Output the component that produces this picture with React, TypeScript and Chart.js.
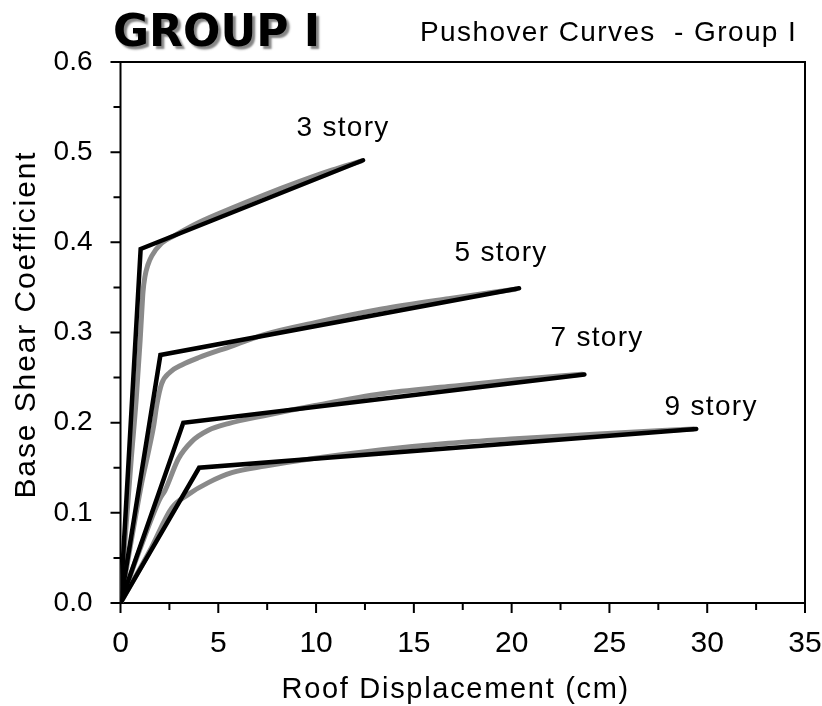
import React, { useEffect, useRef } from "react";
import { Chart, registerables } from "chart.js";

Chart.register(...registerables);

// ---- data ----
const bilinear3: [number, number][] = [[0, 0], [1.03, 0.3926], [12.4, 0.491]];
const bilinear5: [number, number][] = [[0, 0], [2.04, 0.275], [20.38, 0.349]];
const bilinear7: [number, number][] = [[0, 0], [3.21, 0.1998], [23.72, 0.2535]];
const bilinear9: [number, number][] = [[0, 0], [4.02, 0.15], [29.44, 0.193]];

const pushover3: [number, number][] = [
  [0, 0], [0.3, 0.09], [0.55, 0.16], [0.8, 0.225], [1.0, 0.29], [1.08, 0.32], [1.15, 0.345],
  [1.25, 0.362], [1.4, 0.375], [1.6, 0.385], [2.1, 0.399], [2.8, 0.408], [4.0, 0.422],
  [5.7, 0.438], [7.4, 0.453], [9.1, 0.467], [10.8, 0.48], [12.3, 0.49],
];
const pushover5: [number, number][] = [
  [0, 0], [0.6, 0.075], [1.1, 0.135], [1.45, 0.17], [1.7, 0.197], [1.85, 0.219], [2.1, 0.243],
  [2.53, 0.256], [3.13, 0.264], [3.98, 0.272], [5.69, 0.285], [7.39, 0.298], [9.95, 0.311],
  [13.36, 0.326], [16.77, 0.3375], [20.2, 0.348],
];
const pushover7: [number, number][] = [
  [0, 0], [1.0, 0.06], [2.0, 0.115], [2.28, 0.125], [2.96, 0.16], [3.64, 0.179], [4.49, 0.1915],
  [5.51, 0.199], [7.39, 0.208], [9.95, 0.219], [13.36, 0.232], [16.77, 0.2400], [20.18, 0.2475],
  [23.6, 0.2538],
];
const pushover9: [number, number][] = [
  [0, 0], [1.5, 0.058], [2.62, 0.1055], [3.47, 0.1205], [4.49, 0.1335], [5.69, 0.1445],
  [7.39, 0.1518], [9.95, 0.1605], [13.36, 0.17], [16.77, 0.1772], [20.18, 0.1822],
  [24.44, 0.1875], [29.3, 0.193],
];

const storyLabels = ["3 story", "5 story", "7 story", "9 story"];
const storyLabelX = [11.38, 19.46, 24.37, 30.2];
const storyLabelY = [0.527, 0.388, 0.294, 0.217];

const xMajorTicks = [0, 5, 10, 15, 20, 25, 30, 35];
const xMinorTicks = [2.5, 7.5, 12.5, 17.5, 22.5, 27.5, 32.5];
const yMajorTicks = [0, 0.1, 0.2, 0.3, 0.4, 0.5, 0.6];
const yMinorTicks = [0.05, 0.15, 0.25, 0.35, 0.45, 0.55];

const titleText = "GROUP I";
const subtitleText = "Pushover Curves  - Group I";
const xTitle = "Roof Displacement (cm)";
const yTitle = "Base Shear Coefficient";

const FONT = "'Liberation Sans', Arial, sans-serif";

const toPts = (arr: [number, number][]) => arr.map(([x, y]) => ({ x, y }));

const decorPlugin = {
  id: "decor",
  beforeDatasetsDraw(chart: any) {
    const { ctx, chartArea, scales } = chart;
    const xs = scales.x;
    const ys = scales.y;
    ctx.save();
    ctx.strokeStyle = "#000";
    ctx.lineWidth = 2;
    ctx.strokeRect(chartArea.left, chartArea.top, chartArea.right - chartArea.left, chartArea.bottom - chartArea.top);
    ctx.beginPath();
    xMajorTicks.forEach((v) => {
      const p = xs.getPixelForValue(v);
      ctx.moveTo(p, chartArea.bottom);
      ctx.lineTo(p, chartArea.bottom + 10);
    });
    xMinorTicks.forEach((v) => {
      const p = xs.getPixelForValue(v);
      ctx.moveTo(p, chartArea.bottom);
      ctx.lineTo(p, chartArea.bottom + 7);
    });
    yMajorTicks.forEach((v) => {
      const p = ys.getPixelForValue(v);
      ctx.moveTo(chartArea.left, p);
      ctx.lineTo(chartArea.left - 10, p);
    });
    yMinorTicks.forEach((v) => {
      const p = ys.getPixelForValue(v);
      ctx.moveTo(chartArea.left, p);
      ctx.lineTo(chartArea.left - 7, p);
    });
    ctx.stroke();
    ctx.restore();
  },
  afterDraw(chart: any) {
    const { ctx, scales, chartArea } = chart;
    const xs = scales.x;
    const ys = scales.y;
    ctx.save();
    ctx.fillStyle = "#000";
    // story labels
    ctx.font = `28px ${FONT}`;
    (ctx as any).letterSpacing = "1.3px";
    ctx.textAlign = "center";
    ctx.textBaseline = "middle";
    storyLabels.forEach((t, i) => {
      ctx.fillText(t, xs.getPixelForValue(storyLabelX[i]), ys.getPixelForValue(storyLabelY[i]));
    });
    // axis titles
    ctx.font = `29px ${FONT}`;
    (ctx as any).letterSpacing = "1.7px";
    ctx.textBaseline = "middle";
    ctx.fillText(xTitle, (chartArea.left + chartArea.right) / 2 - 7, 690);
    ctx.save();
    ctx.font = `30px ${FONT}`;
    (ctx as any).letterSpacing = "1.9px";
    ctx.translate(27, (chartArea.top + chartArea.bottom) / 2 - 8);
    ctx.rotate(-Math.PI / 2);
    ctx.fillText(yTitle, 0, 0);
    ctx.restore();
    // subtitle
    ctx.font = `28px ${FONT}`;
    (ctx as any).letterSpacing = "1.4px";
    ctx.textAlign = "left";
    ctx.textBaseline = "alphabetic";
    ctx.fillText(subtitleText, 420, 41);
    // main title with shadow
    (ctx as any).letterSpacing = "0px";
    ctx.font = `bold 44px 'DejaVu Sans', Verdana, sans-serif`;
    ctx.shadowColor = "rgba(120,120,120,0.9)";
    ctx.shadowOffsetX = 3;
    ctx.shadowOffsetY = 3;
    ctx.shadowBlur = 2;
    ctx.fillText(titleText, 113, 46);
    ctx.restore();
  },
};

export default function App() {
  const canvasRef = useRef<HTMLCanvasElement | null>(null);

  useEffect(() => {
    if (!canvasRef.current) return;
    const black = (d: [number, number][]) => ({
      data: toPts(d),
      borderColor: "#000",
      borderWidth: 4.5,
      pointRadius: 0,
      showLine: true,
      fill: false,
      tension: 0,
      borderCapStyle: "round" as const,
      borderJoinStyle: "miter" as const,
      order: 0,
    });
    const gray = (d: [number, number][]) => ({
      data: toPts(d),
      borderColor: "#8a8a8a",
      borderWidth: 5,
      pointRadius: 0,
      showLine: true,
      fill: false,
      tension: 0.3,
      cubicInterpolationMode: "monotone" as const,
      borderCapStyle: "round" as const,
      order: 1,
    });
    const chart = new Chart(canvasRef.current, {
      type: "scatter",
      data: {
        datasets: [
          black(bilinear3), black(bilinear5), black(bilinear7), black(bilinear9),
          gray(pushover3), gray(pushover5), gray(pushover7), gray(pushover9),
        ],
      },
      options: {
        animation: false,
        responsive: true,
        maintainAspectRatio: false,
        layout: { padding: { left: 0, top: 62, right: 17, bottom: 0 } },
        plugins: { legend: { display: false }, tooltip: { enabled: false }, title: { display: false } },
        scales: {
          x: {
            type: "linear",
            min: 0,
            max: 35,
            ticks: {
              stepSize: 5,
              color: "#000",
              font: { family: FONT, size: 30 },
              padding: 23,
              maxRotation: 0,
            },
            grid: { display: false, drawTicks: false },
            border: { display: false },
            afterFit(s: any) {
              s.height = 103;
              s.paddingLeft = 0;
              s.paddingRight = 0;
            },
          },
          y: {
            type: "linear",
            min: 0,
            max: 0.6,
            ticks: {
              stepSize: 0.1,
              color: "#000",
              font: { family: FONT, size: 28 },
              padding: 28,
              callback: (v: any) => Number(v).toFixed(1),
            },
            grid: { display: false, drawTicks: false },
            border: { display: false },
            afterFit(s: any) {
              s.width = 120.5;
            },
          },
        },
      },
      plugins: [decorPlugin],
    });
    return () => chart.destroy();
  }, []);

  return (
    <div style={{ position: "absolute", left: 0, top: 0, width: 822, height: 706, background: "#fff" }}>
      <canvas ref={canvasRef} />
    </div>
  );
}
